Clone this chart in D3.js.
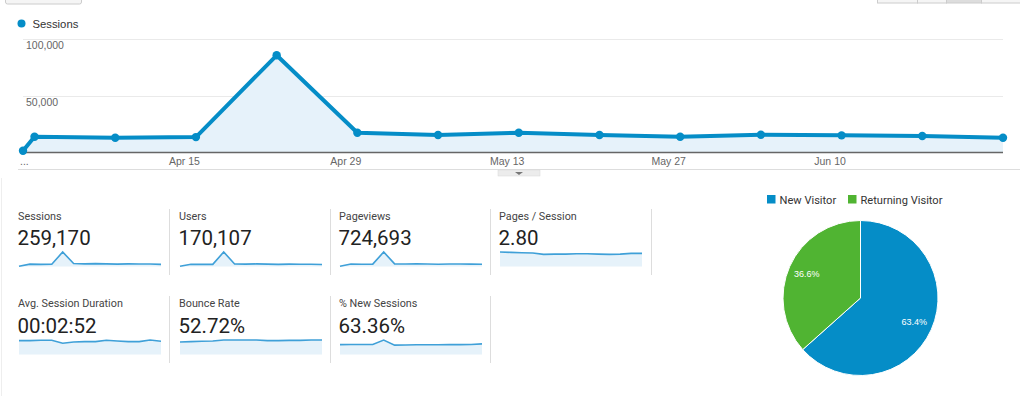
<!DOCTYPE html>
<html><head><meta charset="utf-8">
<script src="https://cdn.jsdelivr.net/npm/d3@7"></script>
<style>
html,body{margin:0;padding:0;background:#fff;}
svg{display:block;}
</style></head>
<body>
<svg id="chart" width="1020" height="396"></svg>
<script>
// ---------- DATA ----------
const seriesName = "Sessions";
const weekDates = ["2018-04-01","2018-04-02","2018-04-09","2018-04-16","2018-04-23","2018-04-30","2018-05-07","2018-05-14","2018-05-21","2018-05-28","2018-06-04","2018-06-11","2018-06-18","2018-06-25"];
const sessionsWeekly = [1400,13700,12800,13400,85400,17200,15200,17200,15200,13700,15400,14900,14300,12800];
const yTicks = [50000,100000];
const yTickLabels = ["50,000","100,000"];
const xTickDates = ["2018-04-01","2018-04-15","2018-04-29","2018-05-13","2018-05-27","2018-06-10"];
const xTickLabels = ["...","Apr 15","Apr 29","May 13","May 27","Jun 10"];

const metricNames = ["Sessions","Users","Pageviews","Pages / Session","Avg. Session Duration","Bounce Rate","% New Sessions"];
const metricValues = ["259,170","170,107","724,693","2.80","00:02:52","52.72%","63.36%"];
const sparkSessions = [1400,13700,12800,13400,85400,17200,15200,17200,15200,13700,15400,14900,14300,12800];
const sparkUsers = [900,9000,8600,8900,60000,10600,9700,10700,9800,8800,9900,9600,9300,8500];
const sparkPageviews = [3500,40000,38000,39000,240000,44000,41000,44000,41000,37000,42000,41000,39000,37000];
const sparkPagesPerSession = [3.2,3.12,3.05,2.97,2.67,2.74,2.74,2.82,2.82,2.74,2.67,2.74,2.9,2.9];
const sparkDuration = [191,191,196,196,156,173,178,178,196,187,178,178,200,182];
const sparkBounce = [48.4,49.6,50.9,52.2,56,56,56,56,53.5,53.5,54.7,54.7,56,56];
const sparkNewSessions = [58,58.5,59,59,85,55,56,57,57,57,58,58,59,62];

const pieLabels = ["New Visitor","Returning Visitor"];
const pieValues = [63.4,36.6];
const pieColors = ["#058dc7","#50b432"];

// ---------- DRAW ----------
const svg = d3.select("#chart");
const parse = d3.timeParse("%Y-%m-%d");
const blue = "#058dc7";

// top UI remnants
svg.append("rect").attr("x",5.5).attr("y",-6).attr("width",76).attr("height",10).attr("rx",2)
  .attr("fill","#f5f5f5").attr("stroke","#ccc");
const btnX = [877,917,946,981];
btnX.forEach((bx,i)=>{
  const w = (i<3? btnX[i+1] : 1020) - bx;
  svg.append("rect").attr("x",bx+0.5).attr("y",-6).attr("width",w).attr("height",9)
    .attr("fill", i===2 ? "#ddd" : "#f5f5f5").attr("stroke","#ccc");
});

// left faint border
svg.append("line").attr("x1",1.5).attr("x2",1.5).attr("y1",178).attr("y2",396).attr("stroke","#eee");

// legend
svg.append("circle").attr("cx",21.5).attr("cy",23.5).attr("r",4).attr("fill",blue);
svg.append("text").attr("x",32.5).attr("y",28).text(seriesName)
  .attr("font-family","Liberation Sans, Arial, sans-serif").attr("font-size",11.3).attr("fill","#333");

// main chart scales
const x = d3.scaleTime().domain([parse(weekDates[0]), parse(weekDates[weekDates.length-1])]).range([23,1003]);
const y = d3.scaleLinear().domain([0,100000]).range([152.3,38.7]);

// gridlines
svg.append("g").selectAll("line").data(yTicks).join("line")
  .attr("x1",23).attr("x2",1003).attr("y1",d=>Math.round(y(d))+0.5).attr("y2",d=>Math.round(y(d))+0.5)
  .attr("stroke","#eaeaea");
svg.append("g").selectAll("text").data(yTicks).join("text")
  .attr("x",26).attr("y",d=>y(d)+10.5).text((d,i)=>yTickLabels[i])
  .attr("font-family","Liberation Sans, Arial, sans-serif").attr("font-size",10.5).attr("fill","#666");

const pts = weekDates.map((d,i)=>({date:parse(d), v:sessionsWeekly[i]}));
svg.append("path").datum(pts)
  .attr("d", d3.area().x(d=>x(d.date)).y0(y(0)).y1(d=>y(d.v)))
  .attr("fill","#e6f2fa");
svg.append("line").attr("x1",23).attr("x2",1003).attr("y1",152.5).attr("y2",152.5).attr("stroke","#666").attr("stroke-width",1.5);
svg.append("path").datum(pts)
  .attr("d", d3.line().x(d=>x(d.date)).y(d=>y(d.v)))
  .attr("fill","none").attr("stroke",blue).attr("stroke-width",4).attr("stroke-linejoin","round");
svg.append("g").selectAll("circle").data(pts).join("circle")
  .attr("cx",d=>x(d.date)).attr("cy",d=>y(d.v)).attr("r",4.2).attr("fill",blue);

// x tick labels
svg.append("g").selectAll("text").data(xTickDates).join("text")
  .attr("x",(d,i)=> i===0 ? x(parse(d))-3 : x(parse(d)))
  .attr("y",164.5).attr("text-anchor",(d,i)=> i===0 ? "start":"middle")
  .text((d,i)=>xTickLabels[i])
  .attr("font-family","Liberation Sans, Arial, sans-serif").attr("font-size",10.5).attr("fill","#666");

// bottom separator & toggle
svg.append("line").attr("x1",18).attr("x2",1020).attr("y1",169.5).attr("y2",169.5).attr("stroke","#ddd");
svg.append("rect").attr("x",498).attr("y",170).attr("width",42).attr("height",6).attr("fill","#ececec")
  .attr("stroke","#d8d8d8").attr("stroke-width",0.5);
svg.append("path").attr("d","M515,172 L523,172 L519,175 Z").attr("fill","#777");

// metric tiles
const sparks = [sparkSessions,sparkUsers,sparkPageviews,sparkPagesPerSession,sparkDuration,sparkBounce,sparkNewSessions];
const tileX = [18,179,339,499];
metricNames.forEach((name,i)=>{
  const row = i<4 ? 0 : 1;
  const col = i<4 ? i : i-4;
  const tx = tileX[col];
  const dy = row*87;
  const g = svg.append("g");
  g.append("text").attr("x",tx).attr("y",220+dy).text(name)
    .attr("font-family","Roboto, sans-serif").attr("font-size",10.8).attr("fill","#444");
  g.append("text").attr("x",tx-0.5).attr("y",245+dy+(row?0.5:0)).text(metricValues[i])
    .attr("font-family","Roboto, sans-serif").attr("font-size",20.5).attr("fill","#222");
  const sx = d3.scaleLinear().domain([0,sparks[i].length-1]).range([tx+1,tx+143]);
  const bottom = 266.5 + (row?88:0);
  const sy = d3.scaleLinear().domain([0,d3.max(sparks[i])]).range([bottom,bottom-14.5]);
  g.append("path").datum(sparks[i])
    .attr("d", d3.area().x((d,j)=>sx(j)).y0(bottom).y1(d=>sy(d)))
    .attr("fill","#e6f2fa");
  g.append("path").datum(sparks[i])
    .attr("d", d3.line().x((d,j)=>sx(j)).y(d=>sy(d)))
    .attr("fill","none").attr("stroke","#3fa0d8").attr("stroke-width",1.6);
});
// dividers
const divRow1 = [169.5,330.5,490.5,651.5];
const divRow2 = [169.5,330.5,490.5];
svg.append("g").selectAll("line").data(divRow1).join("line")
  .attr("x1",d=>d).attr("x2",d=>d).attr("y1",209).attr("y2",275).attr("stroke","#ddd");
svg.append("g").selectAll("line").data(divRow2).join("line")
  .attr("x1",d=>d).attr("x2",d=>d).attr("y1",296).attr("y2",363).attr("stroke","#ddd");

// pie legend
const legX = [767,848];
pieLabels.forEach((l,i)=>{
  svg.append("rect").attr("x",legX[i]).attr("y",195).attr("width",8.5).attr("height",8.5).attr("fill",pieColors[i]);
  svg.append("text").attr("x",legX[i]+12.5).attr("y",203.5).text(l)
    .attr("font-family","Roboto, sans-serif").attr("font-size",11.1).attr("fill","#333");
});

// pie
const pcx = 860.5, pcy = 298, pr = 77.5;
const pie = d3.pie().sort(null).value(d=>d)(pieValues);
const arc = d3.arc().innerRadius(0).outerRadius(pr);
const labelArc = d3.arc().innerRadius(59).outerRadius(59);
const pg = svg.append("g").attr("transform",`translate(${pcx},${pcy})`);
pg.selectAll("path").data(pie).join("path").attr("d",arc)
  .attr("fill",(d,i)=>pieColors[i]).attr("stroke","#fff").attr("stroke-width",1);
pg.selectAll("text").data(pie).join("text")
  .attr("transform",d=>`translate(${labelArc.centroid(d)})`)
  .attr("text-anchor","middle").attr("dy","0.35em")
  .text(d=>d.data.toFixed(1)+"%")
  .attr("font-family","Liberation Sans, Arial, sans-serif").attr("font-size",9).attr("fill","#fff");
</script>
</body></html>
